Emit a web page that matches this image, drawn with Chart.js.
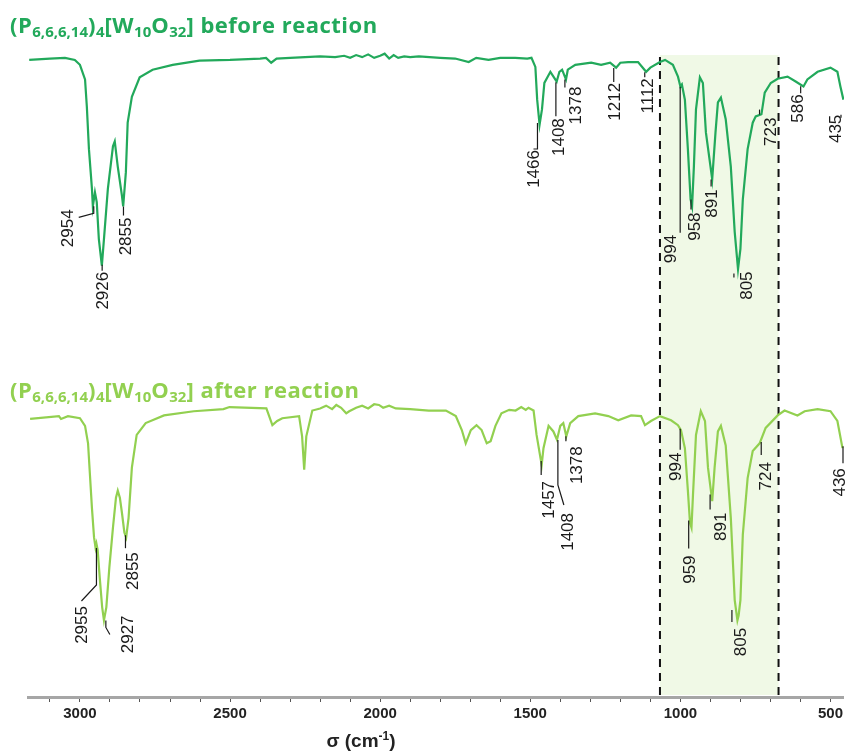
<!DOCTYPE html>
<html>
<head>
<meta charset="utf-8">
<script src="https://cdn.jsdelivr.net/npm/chart.js@4.4.1/dist/chart.umd.min.js"></script>
<style>
  body { margin: 0; background: #fff; }
  #wrap { position: relative; width: 846px; height: 751px; }
  .title { position: absolute; left: 10px; font-family: "Open Sans", Lato, sans-serif; font-weight: bold; font-size: 22px; line-height: 22px; letter-spacing: 0.5px; white-space: nowrap; }
  .title sub { font-size: 15px; line-height: 0; vertical-align: -4px; letter-spacing: 0; }
  #before { top: 13px; color: #22a95b; }
  #after { top: 378px; color: #92d050; }
  #xtitle { position: absolute; top: 730px; left: 361px; transform: translateX(-50%); font-family: "Liberation Sans", Arial, sans-serif; font-weight: bold; font-size: 19px; line-height: 21px; color: #222; white-space: nowrap; }
  #xtitle sup { font-size: 12px; line-height: 0; }
</style>
</head>
<body>
<div id="wrap">
  <canvas id="ir" width="846" height="751"></canvas>
  <div class="title" id="before">(P<sub>6,6,6,14</sub>)<sub>4</sub>[W<sub>10</sub>O<sub>32</sub>] before reaction</div>
  <div class="title" id="after">(P<sub>6,6,6,14</sub>)<sub>4</sub>[W<sub>10</sub>O<sub>32</sub>] after reaction</div>
  <div id="xtitle">σ (cm<sup>-1</sup>)</div>
</div>
<script>
// spectrum before reaction (wavenumber cm-1, transmittance a.u.)
const beforeWavenumber = [3169, 3100, 3050, 3017, 3000, 2983, 2977, 2970, 2960, 2957, 2950, 2944, 2937, 2927, 2920, 2907, 2890, 2884, 2874, 2860, 2856, 2847, 2841, 2827, 2801, 2758, 2691, 2602,
  2500, 2400, 2380, 2363, 2345, 2300, 2250, 2200, 2150, 2120, 2100, 2080, 2060, 2040, 2020, 2000, 1985, 1970, 1955, 1940, 1920, 1900, 1871,
  1800, 1750, 1705, 1680, 1639, 1600, 1550, 1510, 1496, 1483, 1477, 1469, 1461, 1453, 1433, 1412, 1403, 1394, 1381, 1375, 1350, 1297, 1264, 1234, 1214, 1200, 1174, 1141, 1114, 1100, 1068, 1051,
  1025, 1008, 1000, 995, 985, 975, 966, 961, 955, 948, 935, 925, 915, 894, 883, 875, 865, 849, 832, 819, 808, 800, 792, 776, 759, 749, 730, 719, 699, 676, 643, 616, 590, 577, 543, 500, 477, 467, 457];
const beforeT = [91.4, 91.6, 91.7, 91.4, 90.7, 88.6, 84.7, 78.6, 72.9, 70.4, 72.4, 71.0, 65.7, 61.9, 65.7, 72.9, 79.0, 79.7, 76.1, 71.9, 70.4, 75.3, 82.4, 86.1, 88.9, 90.0, 90.7, 91.3,
  91.4, 91.6, 91.7, 91.0, 91.6, 91.7, 91.8, 91.9, 91.8, 92.0, 91.7, 92.1, 91.8, 92.2, 91.7, 92.0, 92.3, 91.6, 92.1, 91.7, 91.9, 91.8, 91.9,
  91.7, 91.6, 91.1, 91.7, 91.4, 91.7, 91.7, 91.6, 91.7, 90.4, 85.7, 82.1, 84.3, 88.1, 89.7, 88.3, 89.7, 90.0, 88.6, 90.0, 90.7, 91.0, 90.7, 91.0, 90.3, 91.0, 91.1, 91.1, 89.7, 90.3, 91.1, 91.4,
  90.7, 89.0, 87.6, 87.9, 85.7, 78.6, 71.4, 70.4, 76.1, 84.3, 88.9, 88.1, 81.0, 74.3, 81.0, 85.3, 86.0, 82.9, 76.1, 66.7, 61.4, 64.3, 71.4, 78.6, 82.4, 83.3, 83.6, 86.7, 88.1, 88.7, 89.0, 88.3, 87.6, 88.6, 89.7, 90.3, 89.7, 87.6, 85.7];

// spectrum after reaction
const afterWavenumber = [3166, 3070, 3063, 3040, 3000, 2983, 2973, 2967, 2960, 2953, 2948, 2945, 2941, 2934, 2926, 2920, 2912, 2902, 2890, 2880, 2874, 2867, 2860, 2852, 2846, 2838, 2827, 2811, 2781, 2720, 2621, 2522,
  2502, 2379, 2359, 2343, 2326, 2270, 2260, 2253, 2246, 2226, 2200, 2180, 2160, 2146, 2130, 2113, 2103, 2080, 2060, 2040, 2020, 2004, 1990, 1970, 1948, 1900, 1838, 1781,
  1748, 1728, 1715, 1698, 1679, 1662, 1645, 1632, 1616, 1596, 1570, 1549, 1530, 1515, 1506, 1489, 1479, 1462, 1456, 1439, 1423, 1411, 1400, 1390, 1380, 1367, 1340, 1284, 1240, 1207, 1164, 1131, 1118, 1098, 1068, 1031,
  1008, 998, 985, 975, 968, 963, 958, 948, 932, 918, 908, 894, 886, 875, 865, 849, 832, 819, 810, 806, 800, 792, 776, 759, 736, 716, 676, 653, 610, 586, 543, 500, 477, 460];
const afterT = [39.9, 40.3, 39.9, 40.3, 40.0, 38.9, 36.4, 32.1, 27.1, 22.9, 21.4, 22.0, 21.1, 17.1, 12.9, 11.0, 12.9, 18.6, 24.3, 28.6, 29.6, 28.6, 26.4, 23.6, 22.9, 25.7, 32.9, 37.6, 39.3, 40.4, 41.0, 41.3,
  41.6, 41.4, 39.0, 39.6, 40.0, 40.3, 37.4, 32.6, 37.4, 41.1, 41.4, 41.8, 41.3, 41.9, 41.5, 40.7, 41.0, 41.5, 41.8, 41.4, 42.0, 41.9, 41.5, 41.8, 41.4, 41.3, 41.1, 41.1,
  40.3, 38.3, 36.4, 38.3, 39.0, 38.3, 36.4, 36.7, 38.9, 40.7, 41.2, 41.1, 41.6, 41.2, 41.5, 41.1, 37.6, 33.3, 35.7, 38.9, 38.1, 36.9, 38.9, 39.3, 37.4, 39.3, 40.3, 40.7, 40.3, 39.7, 40.4, 40.3, 39.0, 39.6, 40.3, 39.7,
  39.0, 38.3, 35.7, 29.6, 25.0, 24.3, 29.0, 37.6, 41.0, 39.6, 32.9, 28.1, 32.9, 38.1, 38.9, 36.1, 25.7, 13.9, 11.0, 11.7, 13.9, 23.3, 31.4, 35.3, 36.4, 38.6, 40.4, 41.1, 40.4, 41.0, 41.3, 41.0, 39.6, 35.7];

// annotated bands
const beforePeaks = [2954, 2926, 2855, 1466, 1408, 1378, 1212, 1112, 994, 958, 891, 805, 723, 586, 435];
const afterPeaks = [2955, 2927, 2855, 1457, 1408, 1378, 994, 959, 891, 805, 724, 436];

// axis
const xTickValues = [3100, 3000, 2900, 2800, 2700, 2600, 2500, 2400, 2300, 2200, 2100, 2000, 1900, 1800, 1700, 1600, 1500, 1400, 1300, 1200, 1100, 1000, 900, 800, 700, 600, 500];
const xTickLabels = ['3000', '2500', '2000', '1500', '1000', '500'];
const shadedBand = [1068, 673];

// label layout, px: leader x shift, leader start/end below curve, elbow, text shift, text top below curve
const beforeLayout = [
  {lx: 0, y0: 6, y1: 13, ex: -15, ey: 4, dx: -27, ty: 9},
  {lx: 0, y0: 3, y1: 9, dx: 0, ty: 10},
  {lx: 0, y0: 4, y1: 13, dx: 2, ty: 15},
  {lx: -3, y0: 4, y1: 30, ex: -4, ey: 0, dx: -7, ty: 31},
  {lx: -2, y0: 5, y1: 39, dx: 0, ty: 41},
  {lx: -2, y0: 5, y1: 13, dx: 8, ty: 12},
  {lx: -3, y0: 1, y1: 15, dx: -3, ty: 16},
  {lx: -2, y0: 1, y1: 6, dx: 0, ty: 7},
  {lx: -2, y0: 1, y1: 147, dx: -12, ty: 149},
  {lx: -2, y0: 13, y1: 23, dx: 1, ty: 26},
  {lx: -2, y0: 13, y1: 20, dx: -2, ty: 23},
  {lx: -5, y0: 12, y1: 16, dx: 7, ty: 10},
  {lx: -4, y0: 9, y1: 14, dx: 6, ty: 17},
  {lx: -4, y0: 2, y1: 9, dx: -8, ty: 10},
  {lx: 0, y0: 15, y1: 18, dx: -6, ty: 15}
];
const afterLayout = [
  {lx: 3, y0: 19, y1: 56, ex: -15, ey: 16, dx: -12, ty: 77},
  {lx: 4, y0: 17, y1: 24, ex: 4, ey: 7, dx: 25, ty: 12},
  {lx: 2, y0: 10, y1: 23, dx: 9, ty: 27},
  {lx: -2, y0: 10, y1: 24, dx: 5, ty: 30},
  {lx: 0, y0: 4, y1: 49, ex: 6, ey: 20, dx: 9, ty: 77},
  {lx: -1, y0: 2, y1: 7, dx: 9, ty: 12},
  {lx: -2, y0: -7, y1: 14, dx: -7, ty: 17},
  {lx: -4, y0: 19, y1: 47, dx: -4, ty: 54},
  {lx: -3, y0: 6, y1: 21, dx: 7, ty: 24},
  {lx: -7, y0: -3, y1: 9, dx: 1, ty: 15},
  {lx: -2, y0: 8, y1: 21, dx: 2, ty: 28},
  {lx: 2, y0: -2, y1: 15, dx: -2, ty: 20}
];

function valueAt(wn, t, v) {
  if (v >= wn[0]) return t[0];
  for (let i = 0; i < wn.length - 1; i++) {
    if (v <= wn[i] && v >= wn[i + 1]) {
      const f = (wn[i] - v) / (wn[i] - wn[i + 1]);
      return t[i] + f * (t[i + 1] - t[i]);
    }
  }
  return t[t.length - 1];
}

const shadePlugin = {
  id: 'shade',
  beforeDatasetsDraw(chart) {
    const { ctx, chartArea, scales: { x, y } } = chart;
    const xa = x.getPixelForValue(shadedBand[0]);
    const xb = x.getPixelForValue(shadedBand[1]);
    const top = y.getPixelForValue(92.1);
    ctx.save();
    ctx.fillStyle = '#f0f9e6';
    ctx.fillRect(xa, top, xb - xa, chartArea.bottom - 2 - top);
    ctx.strokeStyle = '#111';
    ctx.lineWidth = 2;
    ctx.setLineDash([8, 6]);
    [xa, xb].forEach(px => {
      ctx.beginPath();
      ctx.moveTo(px, top + 2);
      ctx.lineTo(px, chartArea.bottom - 1);
      ctx.stroke();
    });
    ctx.restore();
  }
};

const peakPlugin = {
  id: 'peaks',
  afterDatasetsDraw(chart) {
    const { ctx, chartArea, scales: { x, y } } = chart;
    const sets = [
      [beforeWavenumber, beforeT, beforePeaks, beforeLayout],
      [afterWavenumber, afterT, afterPeaks, afterLayout]
    ];
    sets.forEach(([wn, t, peaks, layout]) => {
      peaks.forEach((p, i) => {
        const L = layout[i];
        const px = Math.min(x.getPixelForValue(p), chartArea.right - 3);
        const cy = y.getPixelForValue(valueAt(wn, t, p));
        ctx.save();
        ctx.strokeStyle = '#1a1a1a';
        ctx.lineWidth = 1.2;
        ctx.beginPath();
        ctx.moveTo(px + L.lx, cy + L.y0);
        ctx.lineTo(px + L.lx, cy + L.y1);
        if (L.ex !== undefined) ctx.lineTo(px + L.lx + L.ex, cy + L.y1 + L.ey);
        ctx.stroke();
        ctx.translate(px + L.dx + 6, cy + L.ty);
        ctx.rotate(-Math.PI / 2);
        ctx.font = '17px "Liberation Sans", Arial, sans-serif';
        ctx.fillStyle = '#1a1a1a';
        ctx.textAlign = 'right';
        ctx.textBaseline = 'alphabetic';
        ctx.fillText(String(p), 0, 0);
        ctx.restore();
      });
    });
  }
};

new Chart(document.getElementById('ir'), {
  type: 'line',
  data: {
    datasets: [
      {
        label: 'before reaction',
        data: beforeWavenumber.map((w, i) => ({ x: w, y: beforeT[i] })),
        borderColor: '#22a95b',
        borderWidth: 2.2,
        pointRadius: 0,
        tension: 0,
        fill: false
      },
      {
        label: 'after reaction',
        data: afterWavenumber.map((w, i) => ({ x: w, y: afterT[i] })),
        borderColor: '#92d050',
        borderWidth: 2.2,
        pointRadius: 0,
        tension: 0,
        fill: false
      }
    ]
  },
  options: {
    responsive: false,
    animation: false,
    devicePixelRatio: 1,
    layout: { padding: { left: 28, right: 0, top: 0, bottom: 25 } },
    plugins: { legend: { display: false }, tooltip: { enabled: false } },
    scales: {
      x: {
        type: 'linear',
        reverse: true,
        min: 455,
        max: 3173,
        border: { color: '#a6a6a6', width: 3 },
        grid: { drawOnChartArea: false, tickLength: 5, color: '#555' },
        afterBuildTicks: scale => { scale.ticks = xTickValues.map(v => ({ value: v })); },
        ticks: {
          autoSkip: false,
          maxRotation: 0,
          padding: 3,
          color: '#222',
          font: { family: '"Liberation Sans", Arial, sans-serif', size: 15, weight: 'bold' },
          callback: v => xTickLabels.includes(String(v)) ? String(v) : ''
        }
      },
      y: {
        display: false,
        min: 0,
        max: 100
      }
    }
  },
  plugins: [shadePlugin, peakPlugin]
});
</script>
</body>
</html>
